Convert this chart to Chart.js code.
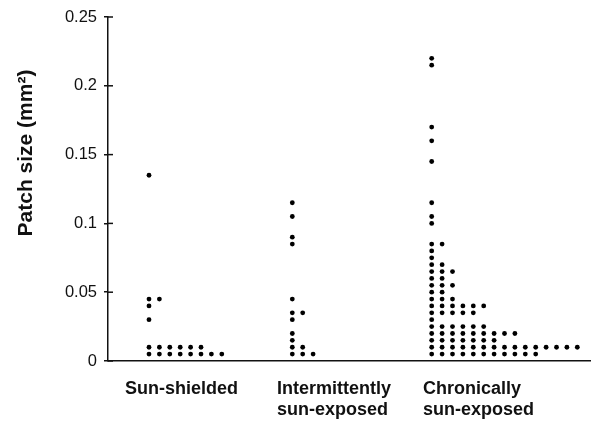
<!DOCTYPE html>
<html>
<head>
<meta charset="utf-8">
<script src="https://cdn.jsdelivr.net/npm/chart.js@4"></script>
<style>
  html, body { margin: 0; padding: 0; background: #fff; }
  #wrap { width: 595px; height: 430px; }
</style>
</head>
<body>
<div id="wrap"><canvas id="chartCanvas" width="595" height="430"></canvas></div>
<script>
// Data: patch sizes (mm2) and how many patches share each size
var categoryLabels = [['Sun-shielded'], ['Intermittently', 'sun-exposed'], ['Chronically', 'sun-exposed']];

var shieldedSizes = [0.005, 0.01, 0.03, 0.04, 0.045, 0.135];
var shieldedCounts = [8, 6, 1, 1, 2, 1];

var intermittentSizes = [0.005, 0.01, 0.015, 0.02, 0.03, 0.035, 0.045, 0.085, 0.09, 0.105, 0.115];
var intermittentCounts = [3, 2, 1, 1, 1, 2, 1, 1, 1, 1, 1];

var chronicSizes = [0.005, 0.01, 0.015, 0.02, 0.025, 0.03, 0.035, 0.04, 0.045, 0.05, 0.055, 0.06,
                    0.065, 0.07, 0.075, 0.08, 0.085, 0.1, 0.105, 0.115, 0.145, 0.16, 0.17, 0.215, 0.22];
var chronicCounts = [11, 15, 7, 9, 6, 1, 5, 6, 3, 2, 3, 2, 3, 2, 1, 1, 2, 1, 1, 1, 1, 1, 1, 1, 1];

var yTicks = [0, 0.05, 0.1, 0.15, 0.2, 0.25];

// Layout of the dot columns along the x axis (axis units = pixels from the y axis)
var groupStart = [41, 184.3, 323.7];
var labelStart = [17, 169, 315];
var dotStep = 10.4;

// Turn sizes + counts into dots stacked sideways, one per patch
function dots(sizes, counts, start) {
  var pts = [];
  sizes.forEach(function (s, i) {
    for (var k = 0; k < counts[i]; k++) pts.push({ x: start + k * dotStep, y: s });
  });
  return pts;
}

var dotStyle = { pointRadius: 2.4, pointHoverRadius: 2.4, pointBackgroundColor: '#000', pointBorderWidth: 0, showLine: false };

var ink = '#111';
var tickFont = { family: '"Liberation Sans", Arial, sans-serif', size: 16.5 };
var labelFont = { family: '"Liberation Sans", Arial, sans-serif', size: 18, weight: 'bold', lineHeight: 1.15 };

// Y title (sits a little above the middle of the axis) and the inner half of the y ticks
var extras = {
  id: 'extras',
  afterDraw: function (chart) {
    var c = chart.ctx, y = chart.scales.y;
    c.save();
    c.strokeStyle = ink;
    c.lineWidth = 1.5;
    yTicks.forEach(function (v) {
      var py = y.getPixelForValue(v);
      c.beginPath();
      c.moveTo(y.right, py);
      c.lineTo(y.right + 5, py);
      c.stroke();
    });
    c.translate(26, 153);
    c.rotate(-Math.PI / 2);
    c.fillStyle = ink;
    c.textAlign = 'center';
    c.textBaseline = 'middle';
    c.font = 'bold 21px "Liberation Sans", Arial, sans-serif';
    c.fillText('Patch size (mm\u00B2)', 0, 0);
    c.restore();
  }
};

var ctx = document.getElementById('chartCanvas').getContext('2d');

var chart = new Chart(ctx, {
  type: 'scatter',
  data: {
    datasets: [
      Object.assign({ label: 'Sun-shielded', data: dots(shieldedSizes, shieldedCounts, groupStart[0]) }, dotStyle),
      Object.assign({ label: 'Intermittently sun-exposed', data: dots(intermittentSizes, intermittentCounts, groupStart[1]) }, dotStyle),
      Object.assign({ label: 'Chronically sun-exposed', data: dots(chronicSizes, chronicCounts, groupStart[2]) }, dotStyle)
    ]
  },
  options: {
    responsive: false,
    animation: false,
    layout: { padding: { top: 17, right: 5, left: 0, bottom: 0 } },
    plugins: { legend: { display: false }, tooltip: { enabled: false } },
    scales: {
      x: {
        type: 'linear',
        min: 0,
        max: 482,
        grid: { display: false },
        border: { display: true, color: ink, width: 1.5 },
        afterBuildTicks: function (axis) {
          axis.ticks = labelStart.map(function (v) { return { value: v }; });
        },
        afterFit: function (axis) { axis.height = 69; },
        ticks: {
          align: 'start',
          padding: 10,
          color: ink,
          font: labelFont,
          maxRotation: 0,
          autoSkip: false,
          callback: function (v, i) { return categoryLabels[i]; }
        }
      },
      y: {
        min: 0,
        max: 0.25,
        afterBuildTicks: function (axis) {
          axis.ticks = yTicks.map(function (v) { return { value: v }; });
        },
        afterFit: function (axis) { axis.width = 108; },
        grid: { drawOnChartArea: false, tickLength: 4, color: ink, lineWidth: 1.5 },
        border: { display: true, color: ink, width: 1.5 },
        ticks: {
          padding: 7,
          color: ink,
          font: tickFont,
          callback: function (v) { return String(+v.toFixed(2)); }
        }
      }
    }
  },
  plugins: [extras]
});
</script>
</body>
</html>
